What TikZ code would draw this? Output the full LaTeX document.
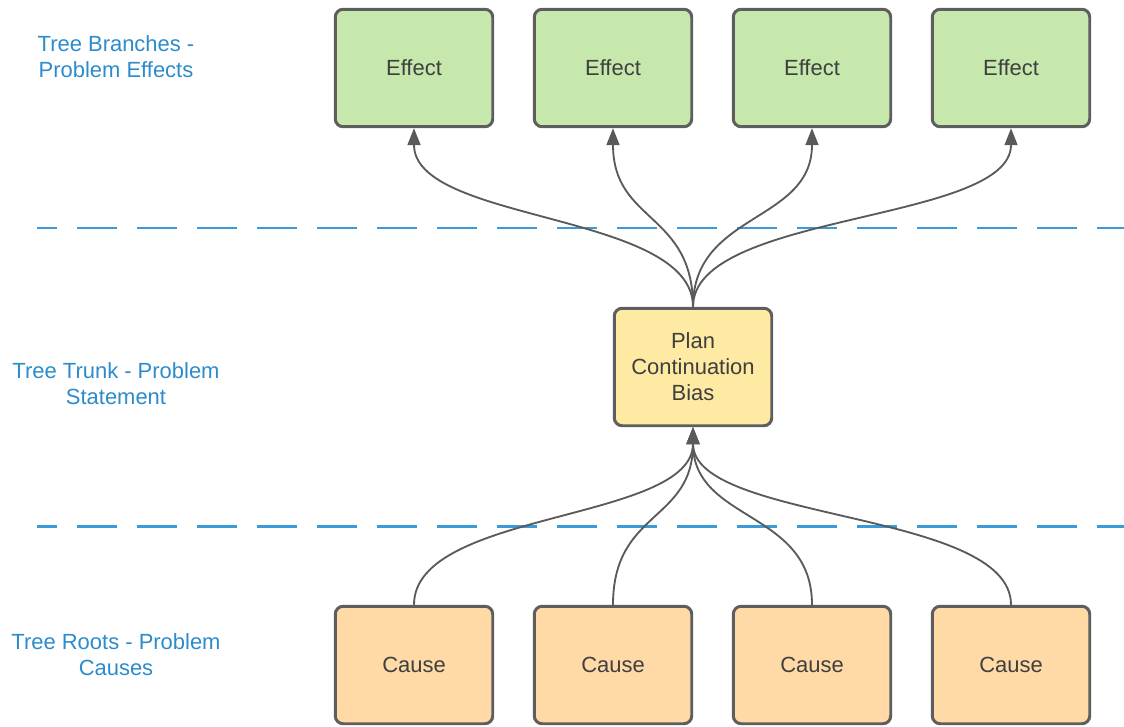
\documentclass[tikz,border=0pt]{standalone}
\usepackage{fontspec}
\setmainfont{Liberation Sans}
\usetikzlibrary{arrows.meta}

\definecolor{effectgreen}{HTML}{C7E8AC}
\definecolor{causeorange}{HTML}{FFDAA6}
\definecolor{trunkyellow}{HTML}{FFEAA3}
\definecolor{boxgray}{HTML}{5E5E5E}
\definecolor{linkgray}{HTML}{5A5A5A}
\definecolor{textgray}{HTML}{3F3F3F}
\definecolor{labelblue}{HTML}{2C8CCB}
\definecolor{dashblue}{HTML}{3A9BD8}

\tikzset{
  treebox/.style={draw=boxgray, line width=1.7pt, rounded corners=4.5pt, minimum width=3.15cm, minimum height=2.35cm, align=center, text=textgray, font=\fontsize{12.5pt}{14.8pt}\selectfont},
  effectbox/.style={treebox, fill=effectgreen},
  causebox/.style={treebox, fill=causeorange},
  trunkbox/.style={treebox, fill=trunkyellow},
  link/.style={draw=linkgray, line width=1.05pt, -{Triangle[length=0.34cm,width=0.26cm]}},
  divider/.style={draw=dashblue, line width=1.7pt, dash pattern=on 0.8cm off 0.4cm, dash phase=0.4cm},
  sidelabel/.style={text=labelblue, align=center, font=\fontsize{12.5pt}{14.8pt}\selectfont}
}

\begin{document}
\begin{tikzpicture}[x=0.02cm, y=-0.02cm]
\useasboundingbox (0, 0) rectangle (1124, 726);

% side labels
\node (branchlabel) [sidelabel] at (116, 57) {Tree Branches -\\Problem Effects};
\node (trunklabel) [sidelabel] at (116, 384) {Tree Trunk - Problem\\Statement};
\node (rootlabel) [sidelabel] at (116, 655) {Tree Roots - Problem\\Causes};

% dividers
\draw [divider] (37, 228) -- (1124, 228);
\draw [divider] (37, 526) -- (1124, 526);

% branches
\node (effectA) [effectbox] at (414, 68) {Effect};
\node (effectB) [effectbox] at (613, 68) {Effect};
\node (effectC) [effectbox] at (812, 68) {Effect};
\node (effectD) [effectbox] at (1011, 68) {Effect};

% trunk
\node (trunk) [trunkbox] at (693, 367) {Plan\\Continuation\\Bias};

% roots
\node (causeA) [causebox] at (414, 665) {Cause};
\node (causeB) [causebox] at (613, 665) {Cause};
\node (causeC) [causebox] at (812, 665) {Cause};
\node (causeD) [causebox] at (1011, 665) {Cause};

\draw [link] (trunk.north) .. controls +(0, -95) and +(0, 95) .. (effectA.south);
\draw [link] (trunk.north) .. controls +(0, -95) and +(0, 95) .. (effectB.south);
\draw [link] (trunk.north) .. controls +(0, -95) and +(0, 95) .. (effectC.south);
\draw [link] (trunk.north) .. controls +(0, -95) and +(0, 95) .. (effectD.south);

\draw [link] (causeA.north) .. controls +(0, -95) and +(0, 95) .. (trunk.south);
\draw [link] (causeB.north) .. controls +(0, -95) and +(0, 95) .. (trunk.south);
\draw [link] (causeC.north) .. controls +(0, -95) and +(0, 95) .. (trunk.south);
\draw [link] (causeD.north) .. controls +(0, -95) and +(0, 95) .. (trunk.south);
\end{tikzpicture}
\end{document}
